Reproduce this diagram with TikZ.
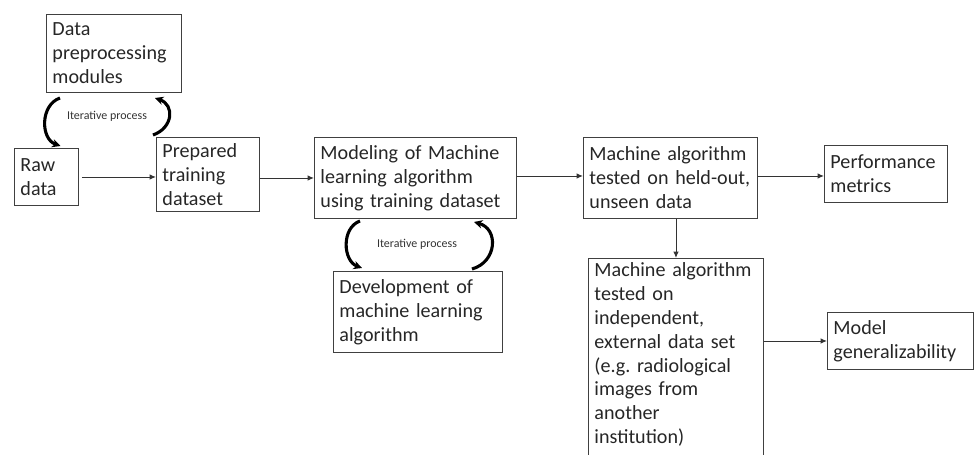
\documentclass[tikz,border=0pt]{standalone}
\usepackage{fontspec}
\setmainfont{Carlito}
\usetikzlibrary{arrows.meta,calc}
\frenchspacing

\tikzset{
  box/.style={draw=black!75,line width=0.7pt,anchor=north west,align=left,
    inner sep=0.15cm,font=\fontsize{14.3}{17}\selectfont,text=black!85},
  arr/.style={draw=black!80,line width=0.7pt,-{Latex[length=4.5pt,width=3.8pt]}},
  iter/.style={line width=2.2pt,-{Stealth[length=6pt,width=6pt]}},
  iterlabel/.style={font=\fontsize{8.5}{10}\selectfont,text=black!80}
}

\begin{document}
\begin{tikzpicture}[x=0.025cm,y=-0.025cm]
\useasboundingbox (0,0) rectangle (976,455);
\clip (0,0) rectangle (976,455);

% boxes
\node[box,minimum width=135*0.025cm,minimum height=78*0.025cm,text width=123*0.025cm] (prep) at (46,14) {Data\\preprocessing\\modules};
\node[box,minimum width=64*0.025cm,minimum height=57*0.025cm,text width=52*0.025cm] (raw) at (14,148) {Raw\\data};
\node[box,minimum width=103*0.025cm,minimum height=73*0.025cm,text width=91*0.025cm] (train) at (156,137) {Prepared\\training\\dataset};
\node[box,minimum width=202*0.025cm,minimum height=81*0.025cm,text width=190*0.025cm] (model) at (314,137) {Modeling of Machine\\learning algorithm\\using training dataset};
\node[box,minimum width=169*0.025cm,minimum height=81*0.025cm,text width=157*0.025cm] (dev) at (333,271) {Development of\\machine learning\\algorithm};
\node[box,minimum width=174*0.025cm,minimum height=81*0.025cm,text width=162*0.025cm] (held) at (583,137) {Machine algorithm\\tested on held-out,\\unseen data};
\node[box,minimum width=123*0.025cm,minimum height=57*0.025cm,text width=111*0.025cm] (perf) at (824,145) {Performance\\metrics};
\node[box,minimum width=175*0.025cm,text width=163*0.025cm,inner ysep=0.1cm] (indep) at (588,258) {Machine algorithm\\tested on\\independent,\\external data set\\(e.g. radiological\\images from\\another\\institution)\\\mbox{}};
\node[box,minimum width=146*0.025cm,minimum height=57*0.025cm,text width=134*0.025cm] (gen) at (827,312) {Model\\generalizability};

% straight connectors
\draw[arr] ([xshift=3*0.025cm]raw.east) -- (raw.east -| train.west);
\draw[arr] (model.west -| train.east) -- (model.west);
\draw[arr] ([yshift=2*0.025cm]model.east) -- ([yshift=2*0.025cm]held.west);
\draw[arr] ([yshift=2*0.025cm]held.east) -- ([yshift=2*0.025cm]held.east -| perf.west);
\draw[arr] (held.south -| indep.north) -- (indep.north);
\draw[arr] (gen.west -| indep.east) -- (gen.west);

% iterative loops
\node[iterlabel] (iterA) at (107,116) {Iterative process};
\draw[iter] ($(prep.south west)+(14,5)$) .. controls +(-20,7) and +(-20,-7) .. ($(raw.north)+(14,-2)$);
\draw[iter] ($(train.north west)+(-3,-2)$) .. controls +(20,-7) and +(20,7) .. ($(prep.south east)+(-27,5)$);

\node[iterlabel] (iterB) at (417,244) {Iterative process};
\draw[iter] ($(model.south west)+(46,2)$) .. controls +(-19,7) and +(-19,-7) .. ($(dev.north west)+(29,-3)$);
\draw[iter] ($(dev.north east)+(-31,-2)$) .. controls +(25,-7) and +(25,7) .. ($(model.south east)+(-43,3)$);
\end{tikzpicture}
\end{document}
